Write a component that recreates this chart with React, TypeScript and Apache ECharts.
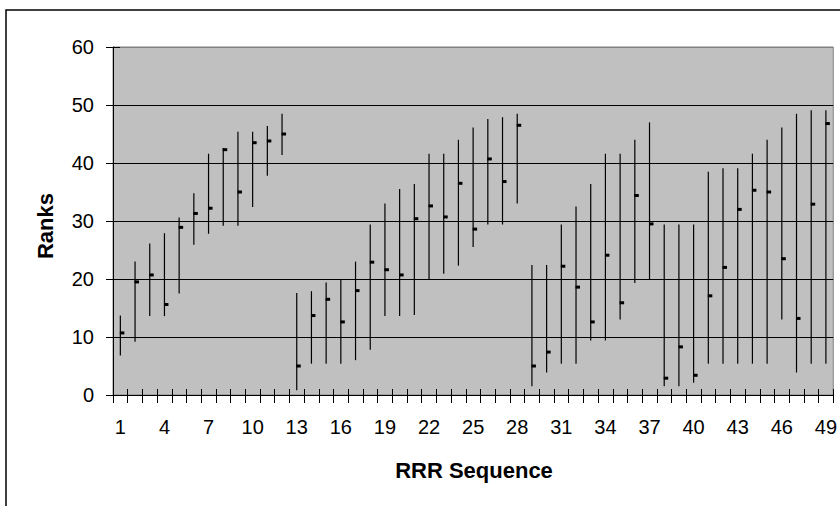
import React, { useEffect, useRef } from "react";
import * as echarts from "echarts";

// RRR sequence positions 1..49
const categories = [
  "1", "2", "3", "4", "5", "6", "7", "8", "9", "10",
  "11", "12", "13", "14", "15", "16", "17", "18", "19", "20",
  "21", "22", "23", "24", "25", "26", "27", "28", "29", "30",
  "31", "32", "33", "34", "35", "36", "37", "38", "39", "40",
  "41", "42", "43", "44", "45", "46", "47", "48", "49",
];

// Rank ranges: high, low and the observed (close) rank per position
const highs = [
  13.7, 23.0, 26.1, 27.9, 30.6, 34.8, 41.6, 42.6, 45.4, 45.4, 46.4, 48.5,
  17.6, 17.9, 19.4, 19.9, 23.0, 29.4, 33.0, 35.5, 36.4, 41.6, 41.6, 44.0, 46.1, 47.6, 47.9, 48.5,
  22.4, 22.4, 29.4, 32.5, 36.4, 41.6, 41.6, 44.0, 47.0,
  29.4, 29.4, 29.4, 38.5, 39.1, 39.1, 41.6, 44.0, 46.1, 48.5, 49.1, 49.1,
];
const lows = [
  6.8, 9.2, 13.6, 13.6, 17.5, 25.9, 27.8, 29.2, 29.2, 32.4, 37.8, 41.4,
  0.8, 5.4, 5.4, 5.4, 6.0, 7.8, 13.6, 13.6, 13.8, 20.0, 20.9, 22.3, 25.5, 29.4, 29.4, 33.0,
  1.5, 3.9, 5.4, 5.4, 9.4, 9.4, 13.0, 19.3, 20.0,
  1.5, 1.5, 2.1, 5.4, 5.4, 5.4, 5.4, 5.4, 13.0, 3.9, 5.4, 5.4,
];
const closes = [
  10.7, 19.5, 20.7, 15.6, 28.9, 31.3, 32.2, 42.3, 35.0, 43.5, 43.8, 45.0,
  5.0, 13.7, 16.5, 12.6, 18.0, 22.9, 21.6, 20.7, 30.4, 32.6, 30.7, 36.5, 28.6, 40.7, 36.8, 46.5,
  5.0, 7.4, 22.2, 18.6, 12.6, 24.1, 15.9, 34.4, 29.5,
  2.9, 8.3, 3.4, 17.1, 22.0, 32.0, 35.3, 35.0, 23.5, 13.2, 32.9, 46.8,
];

const yTicks = { min: 0, max: 60, interval: 10 };

const FONT = "'Liberation Sans', Arial, sans-serif";

export default function App() {
  const ref = useRef<HTMLDivElement>(null);

  useEffect(() => {
    if (!ref.current) return;
    const chart = echarts.init(ref.current, null, { renderer: "svg" });

    const data = categories.map((_, i) => [i, lows[i], highs[i], closes[i]]);

    // vertical high-low bar plus a short close tick to its right
    const renderItem = (params: any, api: any) => {
      const idx = api.value(0);
      const lo = api.coord([idx, api.value(1)]);
      const hi = api.coord([idx, api.value(2)]);
      const cl = api.coord([idx, api.value(3)]);
      return {
        type: "group",
        children: [
          {
            type: "line",
            shape: { x1: lo[0], y1: lo[1], x2: hi[0], y2: hi[1] },
            style: { stroke: "#000", lineWidth: 1.2 },
          },
          {
            type: "rect",
            shape: { x: cl[0] - 0.5, y: cl[1] - 1.5, width: 4.5, height: 3 },
            style: { fill: "#000" },
          },
        ],
      };
    };

    chart.setOption({
      animation: false,
      grid: {
        left: 113,
        right: 4,
        top: 47,
        bottom: 111,
        show: true,
        backgroundColor: "#C0C0C0",
        borderColor: "#808080",
        borderWidth: 1,
      },
      graphic: [
        {
          type: "rect",
          shape: { x: 6, y: 10, width: 1000, height: 1000 },
          style: { fill: "none", stroke: "#000", lineWidth: 1.5 },
          z: -1,
        },
        {
          type: "text",
          x: 45,
          y: 226,
          rotation: Math.PI / 2,
          style: {
            text: "Ranks",
            font: `bold 22px ${FONT}`,
            fill: "#000",
            align: "center",
            verticalAlign: "middle",
          },
        },
        {
          type: "text",
          x: 474,
          y: 470,
          style: {
            text: "RRR Sequence",
            font: `bold 22px ${FONT}`,
            fill: "#000",
            align: "center",
            verticalAlign: "middle",
          },
        },
      ],
      xAxis: [
        {
          type: "category",
          data: categories,
          boundaryGap: true,
          axisLine: { show: true, lineStyle: { color: "#000", width: 1 } },
          axisTick: { show: true, interval: 0, length: 8, lineStyle: { color: "#000" } },
          axisLabel: {
            interval: 2,
            margin: 22,
            color: "#000",
            fontSize: 20,
            fontFamily: FONT,
          },
          splitLine: { show: false },
        },
        {
          type: "category",
          data: categories,
          boundaryGap: true,
          position: "bottom",
          axisLine: { show: false },
          axisTick: { show: true, inside: true, interval: 0, length: 6, lineStyle: { color: "#000" } },
          axisLabel: { show: false },
          splitLine: { show: false },
        },
      ],
      yAxis: [
        {
          type: "value",
          ...yTicks,
          axisLine: { show: true, lineStyle: { color: "#000", width: 1 } },
          axisTick: { show: true, length: 7, lineStyle: { color: "#000" } },
          axisLabel: {
            margin: 19,
            color: "#000",
            fontSize: 20,
            fontFamily: FONT,
          },
          splitLine: {
            show: true,
            lineStyle: {
              color: ["#000", "#000", "#000", "#000", "#000", "#000", "#808080"],
              width: 1,
            },
          },
        },
        {
          type: "value",
          ...yTicks,
          position: "left",
          axisLine: { show: false },
          axisTick: { show: true, inside: true, length: 7, lineStyle: { color: "#000" } },
          axisLabel: { show: false },
          splitLine: { show: false },
        },
      ],
      series: [
        {
          type: "custom",
          xAxisIndex: 0,
          yAxisIndex: 0,
          renderItem,
          encode: { x: 0, y: [1, 2, 3] },
          data,
          clip: false,
        },
      ],
    });

    return () => chart.dispose();
  }, []);

  return (
    <div
      ref={ref}
      style={{ position: "fixed", left: 0, top: 0, width: 840, height: 506, background: "#fff" }}
    />
  );
}
